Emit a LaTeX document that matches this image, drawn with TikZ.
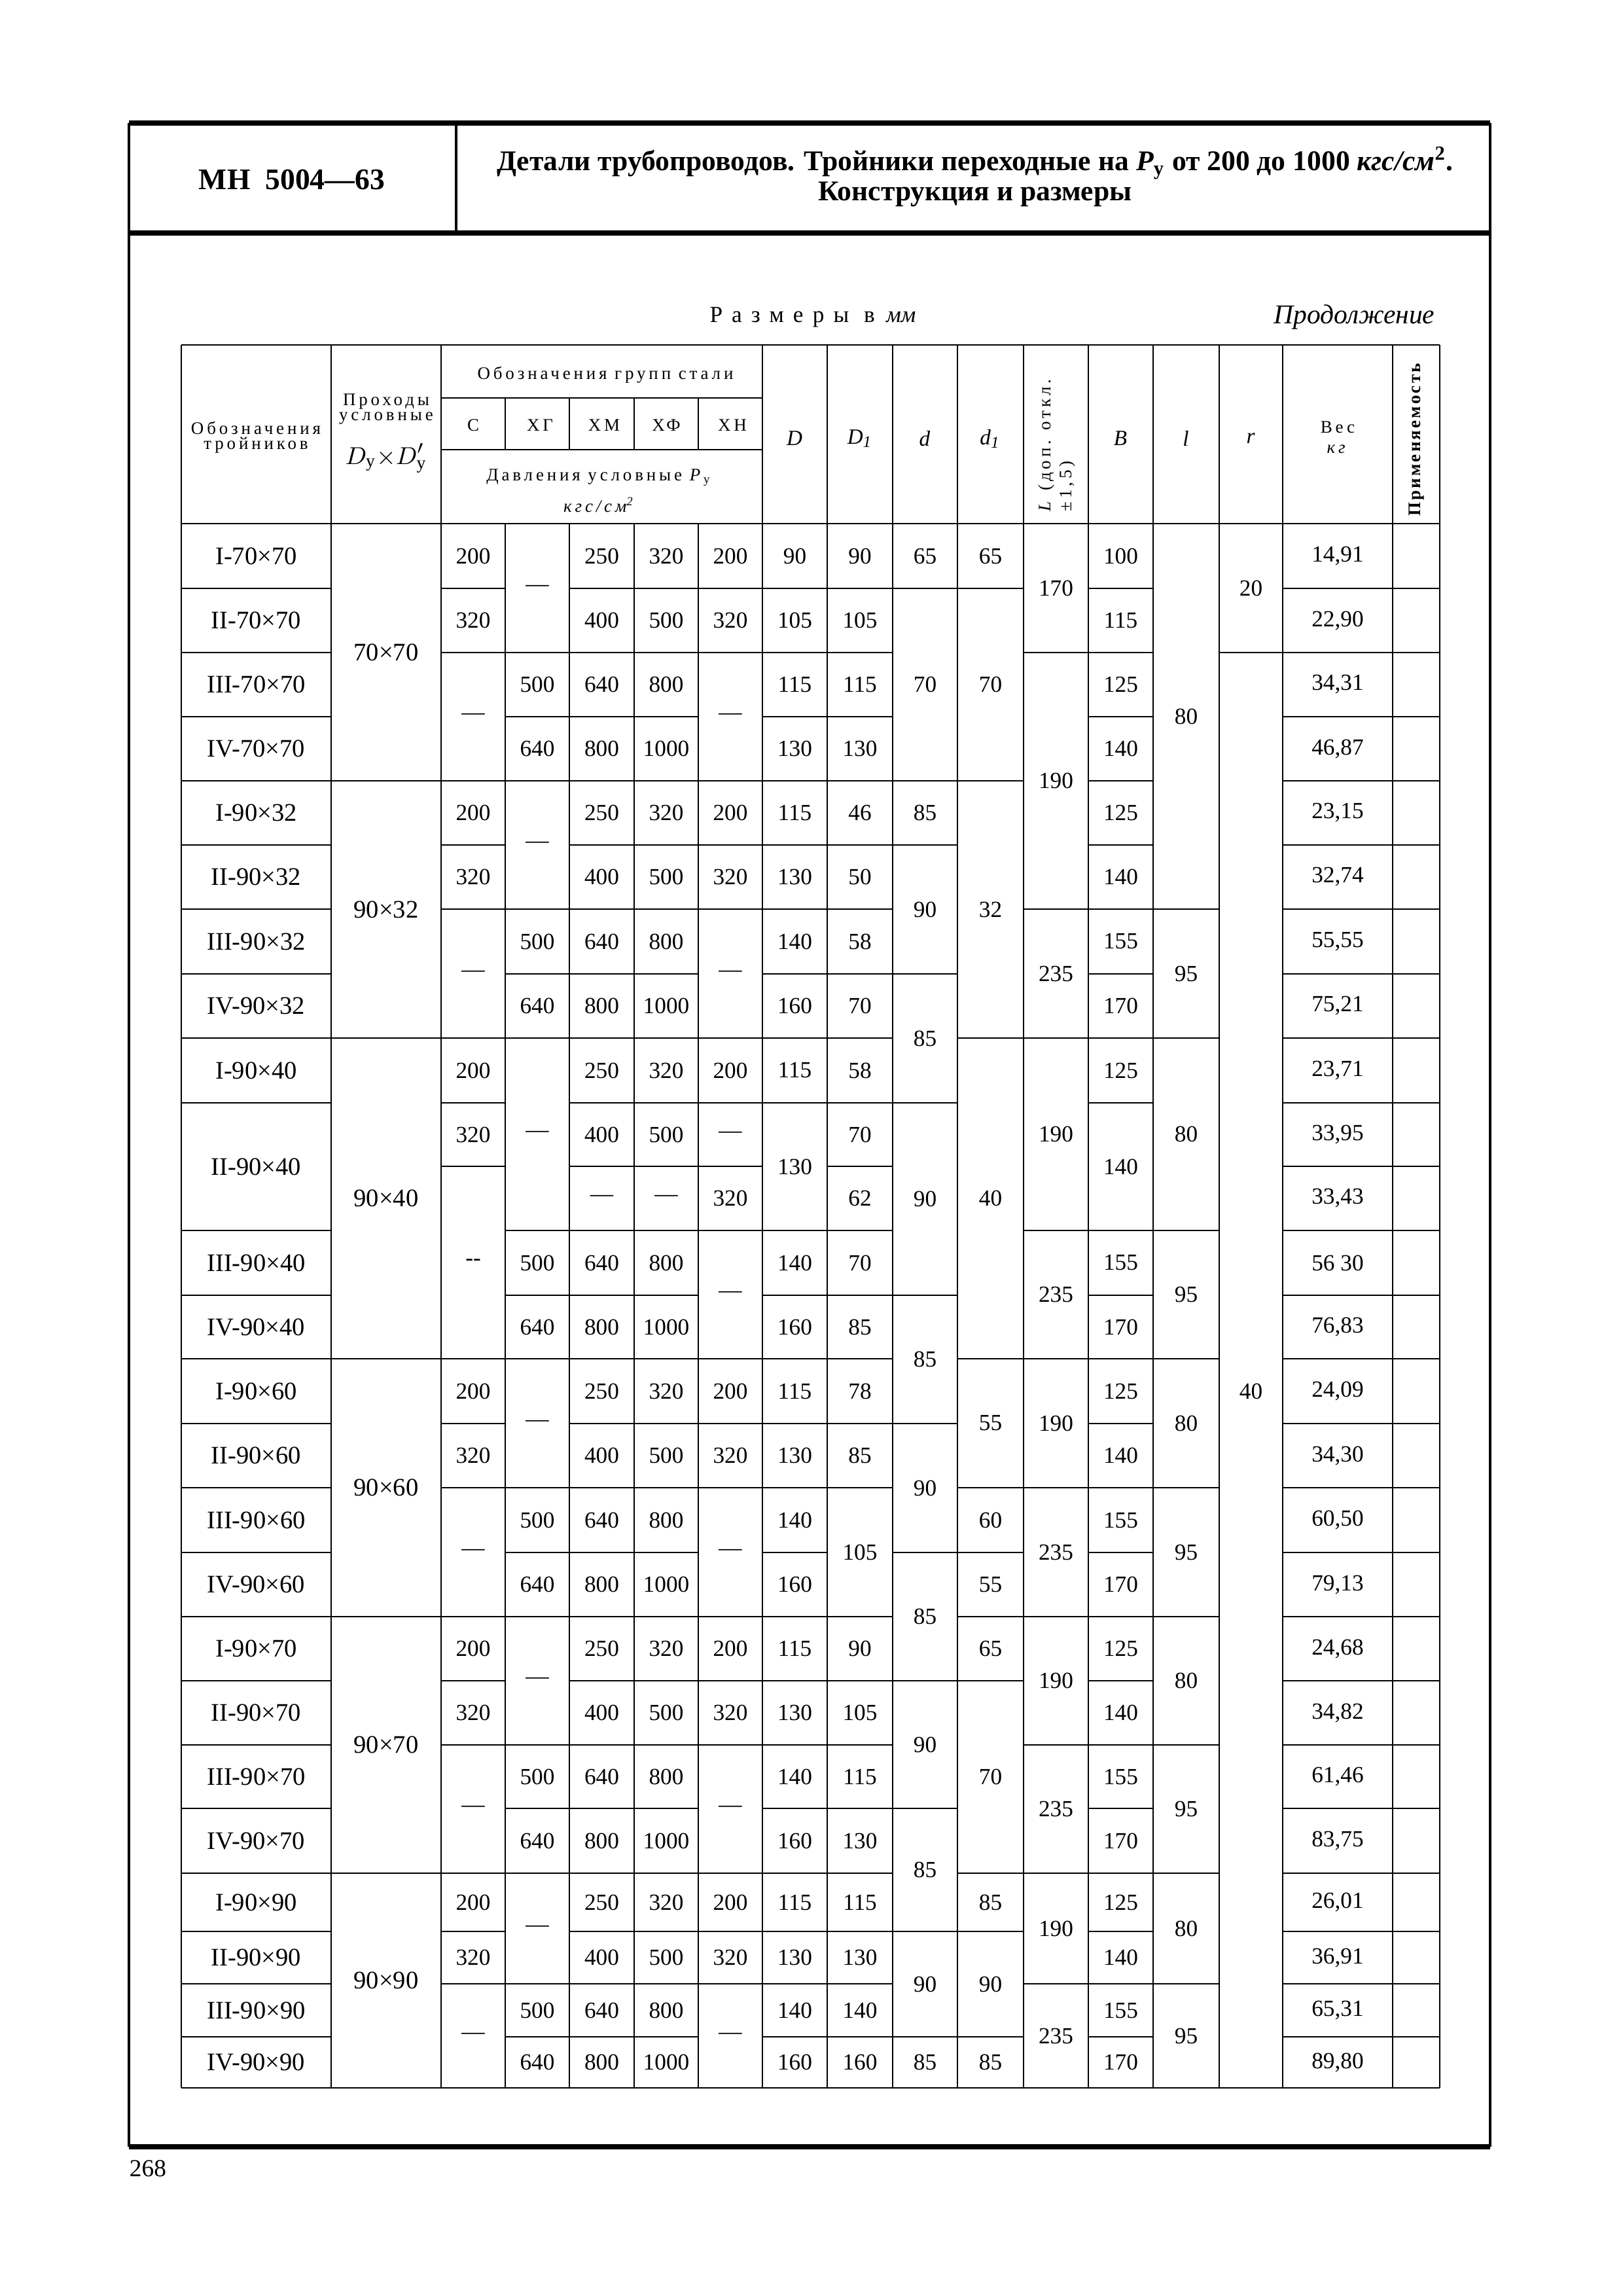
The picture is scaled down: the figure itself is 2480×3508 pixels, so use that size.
\documentclass[tikz,border=0pt]{standalone}
\usepackage{amsmath}
\usepackage{fontspec}
\setmainfont{Liberation Serif}

\newcommand\Py{\textit{P}\textsubscript{у}}
% column and row boundaries of the table (page pixels)
\def\colx{{277,506,674,772,870,969,1067,1165,1264,1364,1463,1564,1663,1762,1863,1960,2128,2200}}
\def\rowy{{800,899,997,1095,1193,1291,1389,1488,1586,1685,1782,1880,1979,2076,2175,2273,2372,2470,2568,2666,2763,2862,2951,3031,3112,3190}}
\newcommand\tcell[5][cell]{% style, column, row, rows spanned, text
  \pgfmathsetmacro\tca{\colx[#2]}%
  \pgfmathsetmacro\tcb{\colx[#2+1]}%
  \pgfmathsetmacro\tcc{\rowy[#3]}%
  \pgfmathsetmacro\tcd{\rowy[#3+#4]}%
  \node[#1] (t#2-#3) at ({(\tca+\tcb)/2},{(\tcc+\tcd)/2}) {#5};}
\newcommand\tline[2]{% row boundary, column
  \pgfmathsetmacro\tla{\colx[#2]}%
  \pgfmathsetmacro\tlb{\colx[#2+1]}%
  \pgfmathsetmacro\tly{\rowy[#1]}%
  \draw[rule] (\tla,\tly) -- (\tlb,\tly);}

\begin{document}
\begin{tikzpicture}[x=0.08467mm, y=-0.08467mm,
    cell/.style={font=\fontsize{8.5}{10}\selectfont, inner sep=0pt},
    lab/.style={font=\fontsize{9.3}{10}\selectfont, inner sep=0pt},
    hcell/.style={font=\fontsize{6.5}{5.5}\selectfont\addfontfeatures{LetterSpace=18}, inner sep=0pt, align=center},
    dim/.style={font=\fontsize{8}{9}\selectfont\itshape, inner sep=0pt},
    rule/.style={line width=0.5pt},
    frame/.style={line width=0.8pt},
    heavy/.style={line width=1.8pt}]
    \useasboundingbox (0,0) rectangle (2480,3508);

    % page frame and title block
    \draw[heavy] (197,188) -- (2277,188);
    \draw[heavy] (197,356) -- (2277,356);
    \draw[heavy] (197,3280) -- (2277,3280);
    \draw[frame] (197,188) -- (197,3280);
    \draw[frame] (2277,188) -- (2277,3280);
    \draw[frame] (697,188) -- (697,356);
    \node[font=\fontsize{11}{13}\selectfont\bfseries] (std) at (446,275) {МН\enspace 5004—63};
    \node[font=\fontsize{10.5}{11}\selectfont\bfseries, align=center] (title) at (1490,270)
        {Детали трубопроводов. Тройники переходные на \Py{} от 200 до 1000 \textit{кгс/см}\textsuperscript{2}.\\Конструкция и размеры};
    \node[font=\fontsize{8.5}{10}\selectfont] (units) at (1242,485) {{\addfontfeatures{LetterSpace=40}Размеры в}\ \ \textit{мм}};
    \node[font=\fontsize{10}{12}\selectfont\itshape, anchor=east] (cont) at (2207,485) {Продолжение};
    \node[font=\fontsize{9}{10}\selectfont] (page) at (226,3313) {268};

    % table grid
    \draw[rule] (277,527) -- (2200,527);
    \draw[rule] (277,800) -- (2200,800);
    \draw[rule] (277,3190) -- (2200,3190);
    \draw[rule] (674,608) -- (1165,608);
    \draw[rule] (674,687) -- (1165,687);
    \foreach \x in {277,506,674,1165,1264,1364,1463,1564,1663,1762,1863,1960,2128,2200}
        \draw[rule] (\x,527) -- (\x,3190);
    \foreach \x in {772,870,969,1067} {
        \draw[rule] (\x,608) -- (\x,687);
        \draw[rule] (\x,800) -- (\x,3190);
    }
    \foreach \b/\cl in {1/{0,2,4,5,6,7,8,9,10,12,15,16}, 2/{0,2,3,4,5,6,7,8,11,12,14,15,16},
        3/{0,3,4,5,7,8,12,15,16}, 4/{0,1,2,3,4,5,6,7,8,9,10,12,15,16},
        5/{0,2,4,5,6,7,8,9,12,15,16}, 6/{0,2,3,4,5,6,7,8,11,12,13,15,16},
        7/{0,3,4,5,7,8,9,12,15,16}, 8/{0,1,2,3,4,5,6,7,8,10,11,12,13,15,16},
        9/{0,2,4,5,6,7,8,9,12,15,16}, 10/{2,4,5,6,8,15,16},
        11/{0,3,4,5,6,7,8,11,12,13,15,16}, 12/{0,3,4,5,7,8,9,12,15,16},
        13/{0,1,2,3,4,5,6,7,8,10,11,12,13,15,16}, 14/{0,2,4,5,6,7,8,9,12,15,16},
        15/{0,2,3,4,5,6,7,8,10,11,12,13,15,16}, 16/{0,3,4,5,7,9,10,12,15,16},
        17/{0,1,2,3,4,5,6,7,8,10,11,12,13,15,16}, 18/{0,2,4,5,6,7,8,9,10,12,15,16},
        19/{0,2,3,4,5,6,7,8,11,12,13,15,16}, 20/{0,3,4,5,7,8,9,12,15,16},
        21/{0,1,2,3,4,5,6,7,8,10,11,12,13,15,16}, 22/{0,2,4,5,6,7,8,9,10,12,15,16},
        23/{0,2,3,4,5,6,7,8,11,12,13,15,16}, 24/{0,3,4,5,7,8,9,10,12,15,16}}
        \foreach \c in \cl {\tline{\b}{\c}}

    % header
    \node[hcell] (hA) at (391,668) {Обозначения\\тройников};
    \node[hcell] (hB) at (590,662) {Проходы\\условные\\[6pt]{\fontsize{9.5}{9}\selectfont$D_\text{у}{\times}D'_\text{у}$}};
    \node[hcell] (hgrp) at (925,573) {Обозначения групп стали};
    \foreach \x/\t [count=\k] in {723/С, 825/ХГ, 923/ХМ, 1018/ХФ, 1119/ХН}
        \node[hcell] (hs\k) at (\x,650) {\t};
    \node[hcell] (hpr) at (915,750) {Давления условные \Py\\[3pt]\textit{кгс/см\textsuperscript{2}}};
    \foreach \x/\t [count=\k] in {1214/D, 1314/D\textsubscript{1}, 1413/d, 1513/d\textsubscript{1}, 1712/B, 1812/l, 1911/r}
        \node[dim] (hd\k) at (\x,670) {\t};
    \node[hcell, rotate=90, anchor=west, align=left] (hL) at (1615,782) {\textit{L} (доп. откл.\\[1pt]±1,5)};
    \node[hcell] (hW) at (2044,668) {Вес\\[2pt]\textit{кг}};
    \node[font=\fontsize{6.5}{7}\selectfont\bfseries\addfontfeatures{LetterSpace=12}, rotate=90, inner sep=0pt] (hP) at (2165,672) {Применяемость};

    % designations and passages
    \foreach \s/\g in {0/70×70, 4/90×32, 13/90×60, 17/90×70, 21/90×90}
        \foreach \n [count=\k from 0] in {I,II,III,IV} {
            \pgfmathtruncatemacro\rr{\s+\k}
            \tcell[lab]{0}{\rr}{1}{\n-\g}
        }
    \foreach \r/\s/\t in {8/1/I-90×40, 9/2/II-90×40, 11/1/III-90×40, 12/1/IV-90×40}
        {\tcell[lab]{0}{\r}{\s}{\t}}
    \foreach \r/\s/\g in {0/4/70×70, 4/4/90×32, 8/5/90×40, 13/4/90×60, 17/4/90×70, 21/4/90×90}
        {\tcell[lab]{1}{\r}{\s}{\g}}

    % pressures
    \foreach \s in {0,4,13,17,21} {
        \pgfmathtruncatemacro\sa{\s+1}
        \pgfmathtruncatemacro\sb{\s+2}
        \pgfmathtruncatemacro\sc{\s+3}
        \tcell{2}{\s}{1}{200}\tcell{2}{\sa}{1}{320}\tcell{2}{\sb}{2}{—}
        \tcell{3}{\s}{2}{—}\tcell{3}{\sb}{1}{500}\tcell{3}{\sc}{1}{640}
        \foreach \r/\t in {\s/250, \sa/400, \sb/640, \sc/800} {\tcell{4}{\r}{1}{\t}}
        \foreach \r/\t in {\s/320, \sa/500, \sb/800, \sc/1000} {\tcell{5}{\r}{1}{\t}}
        \tcell{6}{\s}{1}{200}\tcell{6}{\sa}{1}{320}\tcell{6}{\sb}{2}{—}
    }
    \tcell{2}{8}{1}{200}\tcell{2}{9}{1}{320}\tcell{2}{10}{3}{-{}-}
    \tcell{3}{8}{3}{—}\tcell{3}{11}{1}{500}\tcell{3}{12}{1}{640}
    \foreach \r/\t in {8/250, 9/400, 10/—, 11/640, 12/800} {\tcell{4}{\r}{1}{\t}}
    \foreach \r/\t in {8/320, 9/500, 10/—, 11/800, 12/1000} {\tcell{5}{\r}{1}{\t}}
    \tcell{6}{8}{1}{200}\tcell{6}{9}{1}{—}\tcell{6}{10}{1}{320}\tcell{6}{11}{2}{—}

    % dimensions
    \foreach \r/\s/\t in {0/1/90, 1/1/105, 2/1/115, 3/1/130, 4/1/115, 5/1/130, 6/1/140, 7/1/160,
        8/1/115, 9/2/130, 11/1/140, 12/1/160, 13/1/115, 14/1/130, 15/1/140, 16/1/160,
        17/1/115, 18/1/130, 19/1/140, 20/1/160, 21/1/115, 22/1/130, 23/1/140, 24/1/160}
        {\tcell{7}{\r}{\s}{\t}}
    \foreach \r/\s/\t in {0/1/90, 1/1/105, 2/1/115, 3/1/130, 4/1/46, 5/1/50, 6/1/58, 7/1/70,
        8/1/58, 9/1/70, 10/1/62, 11/1/70, 12/1/85, 13/1/78, 14/1/85, 15/2/105,
        17/1/90, 18/1/105, 19/1/115, 20/1/130, 21/1/115, 22/1/130, 23/1/140, 24/1/160}
        {\tcell{8}{\r}{\s}{\t}}
    \foreach \r/\s/\t in {0/1/65, 1/3/70, 4/1/85, 5/2/90, 7/2/85, 9/3/90, 12/2/85,
        14/2/90, 16/2/85, 18/2/90, 20/2/85, 22/2/90, 24/1/85}
        {\tcell{9}{\r}{\s}{\t}}
    \foreach \r/\s/\t in {0/1/65, 1/3/70, 4/4/32, 8/5/40, 13/2/55, 15/1/60, 16/1/55,
        17/1/65, 18/3/70, 21/1/85, 22/2/90, 24/1/85}
        {\tcell{10}{\r}{\s}{\t}}
    \foreach \r/\s/\t in {0/2/170, 2/4/190, 6/2/235, 8/3/190, 11/2/235, 13/2/190,
        15/2/235, 17/2/190, 19/2/235, 21/2/190, 23/2/235}
        {\tcell{11}{\r}{\s}{\t}}
    \foreach \r/\s/\t in {0/1/100, 1/1/115, 2/1/125, 3/1/140, 4/1/125, 5/1/140, 6/1/155, 7/1/170,
        8/1/125, 9/2/140, 11/1/155, 12/1/170, 13/1/125, 14/1/140, 15/1/155, 16/1/170,
        17/1/125, 18/1/140, 19/1/155, 20/1/170, 21/1/125, 22/1/140, 23/1/155, 24/1/170}
        {\tcell{12}{\r}{\s}{\t}}
    \foreach \r/\s/\t in {0/6/80, 6/2/95, 8/3/80, 11/2/95, 13/2/80, 15/2/95,
        17/2/80, 19/2/95, 21/2/80, 23/2/95}
        {\tcell{13}{\r}{\s}{\t}}
    \tcell{14}{0}{2}{20}\tcell{14}{13}{1}{40}

    % weights
    \foreach \t [count=\r from 0] in {{14,91},{22,90},{34,31},{46,87},{23,15},{32,74},{55,55},
        {75,21},{23,71},{33,95},{33,43},{56 30},{76,83},{24,09},{34,30},{60,50},{79,13},
        {24,68},{34,82},{61,46},{83,75},{26,01},{36,91},{65,31},{89,80}}
        {\tcell{15}{\r}{1}{\t}}
\end{tikzpicture}
\end{document}
